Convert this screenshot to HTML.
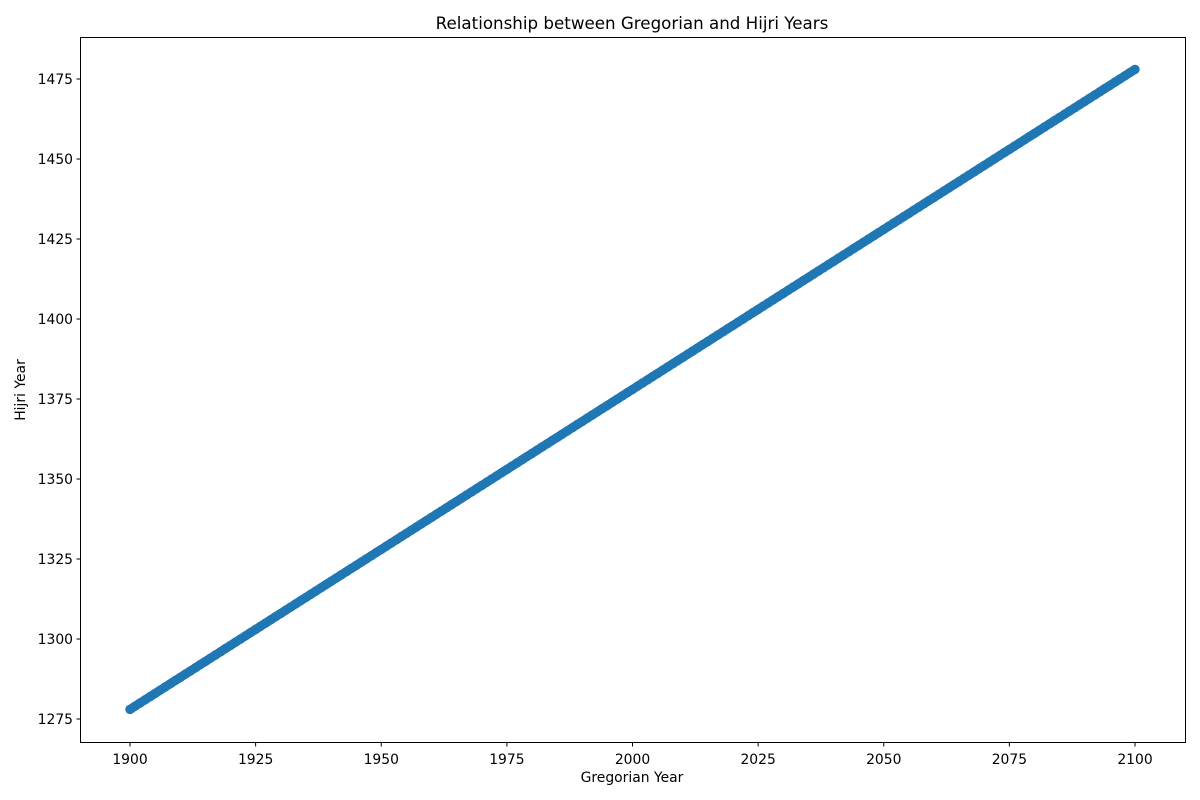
<!DOCTYPE html>
<html><head><meta charset="utf-8"><style>
html,body{margin:0;padding:0;background:#fff;}
svg{display:block;font-family:"DejaVu Sans","Liberation Sans",sans-serif;}
</style></head><body>
<svg id="chart" width="1200" height="800">
<rect x="0" y="0" width="1200" height="800" fill="#fff"/>
<text x="632" y="29" font-size="16.7" text-anchor="middle">Relationship between Gregorian and Hijri Years</text>
<g id="marks"></g>
<rect x="80.5" y="37.5" width="1105" height="705" fill="none" stroke="#000" stroke-width="1"/>
<g id="xticks"></g>
<g id="yticks"></g>
<text x="632" y="782" font-size="13.9" text-anchor="middle">Gregorian Year</text>
<text x="0" y="0" font-size="13.9" text-anchor="middle" transform="translate(25,390) rotate(-90)">Hijri Year</text>
</svg>
<script>
const years = [1900,1901,1902,1903,1904,1905,1906,1907,1908,1909,
1910,1911,1912,1913,1914,1915,1916,1917,1918,1919,
1920,1921,1922,1923,1924,1925,1926,1927,1928,1929,
1930,1931,1932,1933,1934,1935,1936,1937,1938,1939,
1940,1941,1942,1943,1944,1945,1946,1947,1948,1949,
1950,1951,1952,1953,1954,1955,1956,1957,1958,1959,
1960,1961,1962,1963,1964,1965,1966,1967,1968,1969,
1970,1971,1972,1973,1974,1975,1976,1977,1978,1979,
1980,1981,1982,1983,1984,1985,1986,1987,1988,1989,
1990,1991,1992,1993,1994,1995,1996,1997,1998,1999,
2000,2001,2002,2003,2004,2005,2006,2007,2008,2009,
2010,2011,2012,2013,2014,2015,2016,2017,2018,2019,
2020,2021,2022,2023,2024,2025,2026,2027,2028,2029,
2030,2031,2032,2033,2034,2035,2036,2037,2038,2039,
2040,2041,2042,2043,2044,2045,2046,2047,2048,2049,
2050,2051,2052,2053,2054,2055,2056,2057,2058,2059,
2060,2061,2062,2063,2064,2065,2066,2067,2068,2069,
2070,2071,2072,2073,2074,2075,2076,2077,2078,2079,
2080,2081,2082,2083,2084,2085,2086,2087,2088,2089,
2090,2091,2092,2093,2094,2095,2096,2097,2098,2099,2100];
const hijri = [1278,1279,1280,1281,1282,1283,1284,1285,1286,1287,
1288,1289,1290,1291,1292,1293,1294,1295,1296,1297,
1298,1299,1300,1301,1302,1303,1304,1305,1306,1307,
1308,1309,1310,1311,1312,1313,1314,1315,1316,1317,
1318,1319,1320,1321,1322,1323,1324,1325,1326,1327,
1328,1329,1330,1331,1332,1333,1334,1335,1336,1337,
1338,1339,1340,1341,1342,1343,1344,1345,1346,1347,
1348,1349,1350,1351,1352,1353,1354,1355,1356,1357,
1358,1359,1360,1361,1362,1363,1364,1365,1366,1367,
1368,1369,1370,1371,1372,1373,1374,1375,1376,1377,
1378,1379,1380,1381,1382,1383,1384,1385,1386,1387,
1388,1389,1390,1391,1392,1393,1394,1395,1396,1397,
1398,1399,1400,1401,1402,1403,1404,1405,1406,1407,
1408,1409,1410,1411,1412,1413,1414,1415,1416,1417,
1418,1419,1420,1421,1422,1423,1424,1425,1426,1427,
1428,1429,1430,1431,1432,1433,1434,1435,1436,1437,
1438,1439,1440,1441,1442,1443,1444,1445,1446,1447,
1448,1449,1450,1451,1452,1453,1454,1455,1456,1457,
1458,1459,1460,1461,1462,1463,1464,1465,1466,1467,
1468,1469,1470,1471,1472,1473,1474,1475,1476,1477,1478];
const xTickLabels = [1900,1925,1950,1975,2000,2025,2050,2075,2100];
const yTickLabels = [1275,1300,1325,1350,1375,1400,1425,1450,1475];

const NS = "http://www.w3.org/2000/svg";
function xs(v){ return 130 + (v - 1900) * (1005 / 200); }
function ys(v){ return 719 - (v - 1275) * (640 / 200); }

const marks = document.getElementById('marks');
const band = document.createElementNS(NS, 'polyline');
band.setAttribute('points', years.map((y, i) => xs(y) + ',' + ys(hijri[i])).join(' '));
band.setAttribute('fill', 'none');
band.setAttribute('stroke', '#1f77b4');
band.setAttribute('stroke-width', '9');
band.setAttribute('stroke-linecap', 'round');
band.setAttribute('stroke-linejoin', 'round');


marks.appendChild(band);
for (let i = 0; i < years.length; i++) {
  const c = document.createElementNS(NS, 'circle');
  c.setAttribute('cx', xs(years[i]));
  c.setAttribute('cy', ys(hijri[i]));
  c.setAttribute('r', 4.7);
  c.setAttribute('fill', '#1f77b4');
  
  
  marks.appendChild(c);
}
const xt = document.getElementById('xticks');
xTickLabels.forEach(v => {
  const x = xs(v);
  const l = document.createElementNS(NS, 'line');
  l.setAttribute('x1', x); l.setAttribute('x2', x);
  l.setAttribute('y1', 742.5); l.setAttribute('y2', 746.5);
  l.setAttribute('stroke', '#000');
  
  
  xt.appendChild(l);
  const t = document.createElementNS(NS, 'text');
  t.setAttribute('x', x); t.setAttribute('y', 764);
  t.setAttribute('font-size', '13.9'); t.setAttribute('text-anchor', 'middle');
  t.textContent = v;
  
  
  xt.appendChild(t);
});
const yt = document.getElementById('yticks');
yTickLabels.forEach(v => {
  const y = ys(v);
  const l = document.createElementNS(NS, 'line');
  l.setAttribute('x1', 76.5); l.setAttribute('x2', 80.5);
  l.setAttribute('y1', y); l.setAttribute('y2', y);
  l.setAttribute('stroke', '#000');
  
  
  yt.appendChild(l);
  const t = document.createElementNS(NS, 'text');
  t.setAttribute('x', 73); t.setAttribute('y', y + 5);
  t.setAttribute('font-size', '13.9'); t.setAttribute('text-anchor', 'end');
  t.textContent = v;
  
  
  yt.appendChild(t);
});
</script>
</body></html>
